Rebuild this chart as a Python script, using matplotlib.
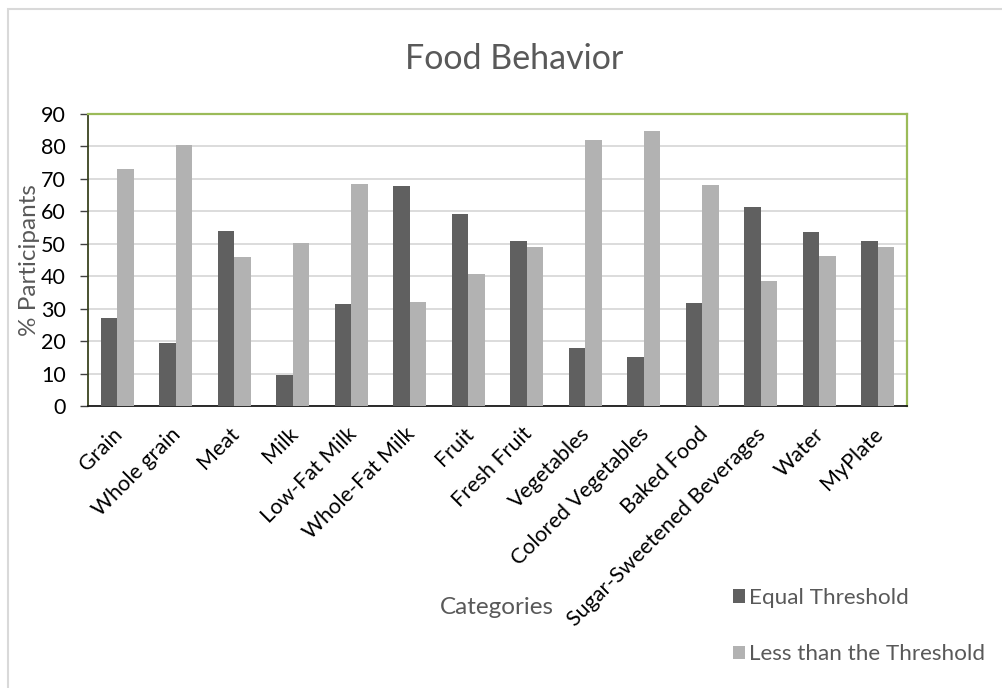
import matplotlib
matplotlib.use("Agg")
import matplotlib.pyplot as plt
from matplotlib.patches import Rectangle
from matplotlib.transforms import ScaledTranslation
import numpy as np

plt.rcParams['font.family'] = ['Lato', 'DejaVu Sans']

categories = ["Grain", "Whole grain", "Meat", "Milk", "Low-Fat Milk", "Whole-Fat Milk",
              "Fruit", "Fresh Fruit", "Vegetables", "Colored Vegetables", "Baked Food",
              "Sugar-Sweetened Beverages", "Water", "MyPlate"]
equal_threshold = [27.0, 19.5, 54.0, 9.6, 31.4, 67.8, 59.2, 50.9, 17.9, 15.0, 31.6, 61.2, 53.6, 50.9]
less_than_threshold = [73.0, 80.3, 45.8, 50.1, 68.4, 32.0, 40.6, 48.9, 81.9, 84.7, 68.1, 38.6, 46.2, 48.9]
series_names = ["Equal Threshold", "Less than the Threshold"]
yticks = [0, 10, 20, 30, 40, 50, 60, 70, 80, 90]

W, H = 1002, 688
fig = plt.figure(figsize=(W / 100, H / 100), dpi=100)
fig.patch.set_facecolor('white')

# outer chart border (only left and top edges are visible in the frame)
fig.add_artist(Rectangle((8 / W, -0.2), 1.2, 1.2 - 9 / H, transform=fig.transFigure,
                         fill=False, edgecolor='#d9d9d9', linewidth=1.5))

left, right, top, bottom = 88, 907, 114, 406
ax = fig.add_axes([left / W, 1 - bottom / H, (right - left) / W, (bottom - top) / H])

x = np.arange(len(categories))
bw = 0.285
ax.bar(x - bw / 2, equal_threshold, bw, color='#606060', label=series_names[0], zorder=3)
ax.bar(x + bw / 2, less_than_threshold, bw, color='#b2b2b2', label=series_names[1], zorder=3)

ax.set_xlim(-0.5, len(categories) - 0.5)
ax.set_ylim(0, 90)
ax.set_yticks(yticks)
ax.set_yticklabels([str(v) for v in yticks], fontsize=15.5, color='black')
ax.yaxis.grid(True, color='#d9d9d9', linewidth=1.3, zorder=0)
ax.set_axisbelow(True)

ax.set_xticks(x)
ax.set_xticklabels(categories, rotation=45, ha='right', va='top', rotation_mode='anchor',
                   fontsize=15.5, color='black')
ax.tick_params(axis='x', length=0, pad=10)
ax.tick_params(axis='y', length=6, width=1, color='#404040', pad=10, direction='out')
offset = ScaledTranslation(-5 / 100, -4 / 100, fig.dpi_scale_trans)
for lbl in ax.get_xticklabels():
    lbl.set_transform(lbl.get_transform() + offset)

for s in ['top', 'right']:
    ax.spines[s].set_color('#9bbb59')
    ax.spines[s].set_linewidth(1.6)
ax.spines['left'].set_color('#3a4420')
ax.spines['left'].set_linewidth(1.3)
ax.spines['bottom'].set_color('#1a1a1a')
ax.spines['bottom'].set_linewidth(1.3)

ax.set_ylabel('% Participants', fontsize=17.5, color='#595959')
ax.yaxis.set_label_coords(-(88 - 40) / (right - left), 0.5)

fig.text(514 / W, 1 - 59 / H, 'Food Behavior', fontsize=24.5, color='#595959',
         ha='center', va='center')
fig.text(497 / W, 1 - 607 / H, 'Categories', fontsize=17.5, color='#595959',
         ha='center', va='center')

leg = fig.legend(loc='upper left', bbox_to_anchor=(733 / W, 1 - 588 / H), frameon=False,
                 fontsize=16.2, handlelength=0.55, handleheight=0.55, handletextpad=0.18,
                 labelspacing=1.62, borderaxespad=0, borderpad=0)
for t in leg.get_texts():
    t.set_color('#595959')

fig.savefig('out.png', dpi=100, facecolor='white')
